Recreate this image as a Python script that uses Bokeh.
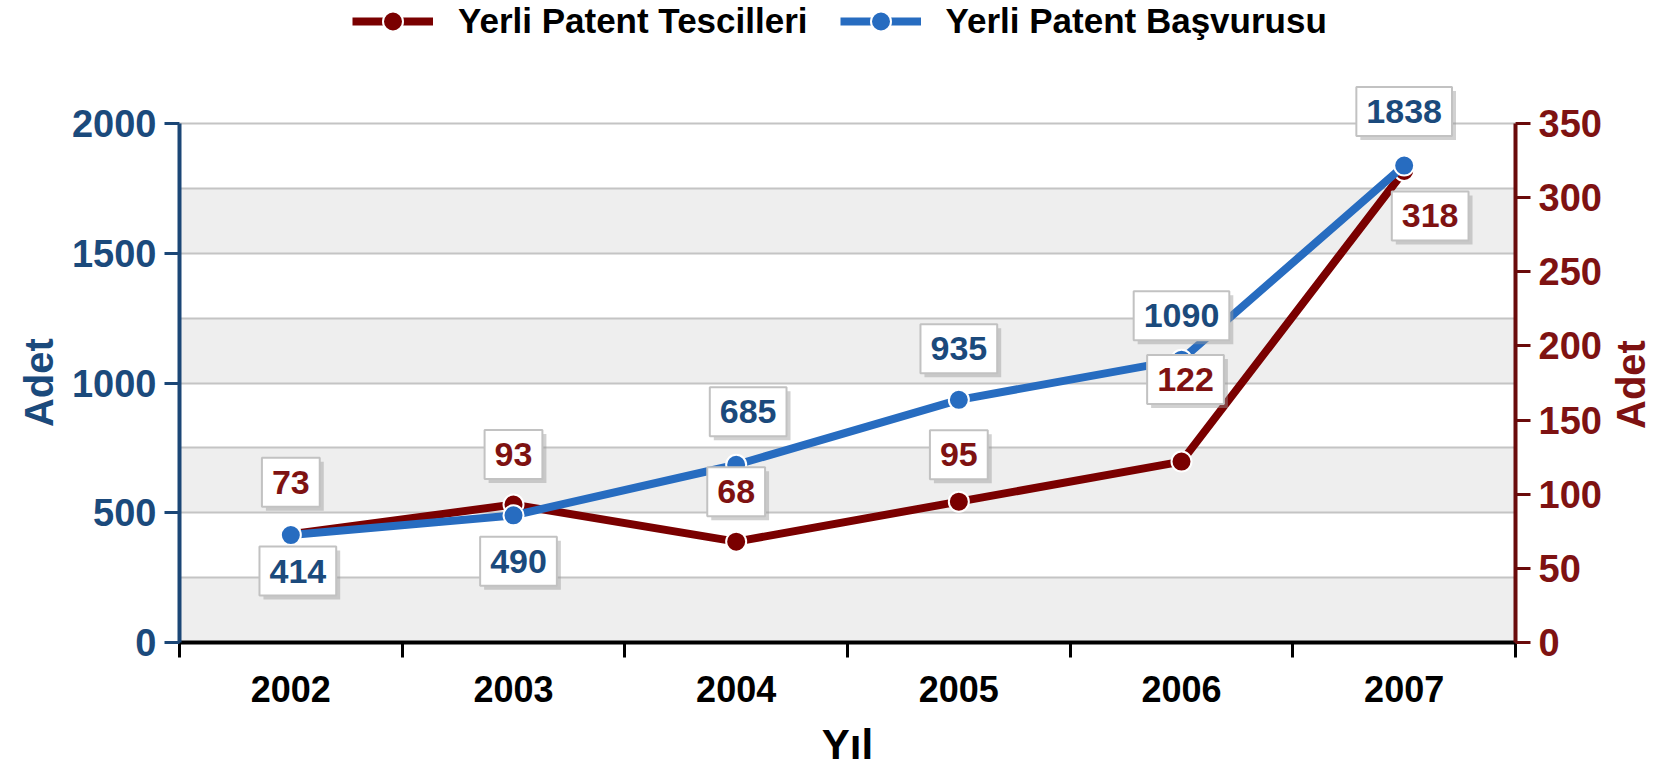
import math
from bokeh.plotting import figure
from bokeh.models import (Range1d, LinearAxis, FixedTicker, Legend, LegendItem,
                          BoxAnnotation, ColumnDataSource)
from bokeh.core.properties import value
from bokeh.embed import file_html
from bokeh.resources import INLINE

# ---- data ----
years = ["2002", "2003", "2004", "2005", "2006", "2007"]
basvuru = [414, 490, 685, 935, 1090, 1838]      # Yerli Patent Başvurusu (left axis)
tescil = [73, 93, 68, 95, 122, 318]             # Yerli Patent Tescilleri (right axis)
left_ticks = [0, 500, 1000, 1500, 2000]
right_ticks = [0, 50, 100, 150, 200, 250, 300, 350]
grid_ticks = [0, 250, 500, 750, 1000, 1250, 1500, 1750, 2000]
LEFT_MAX, RIGHT_MAX = 2000, 350

# ---- label placement (screen px offsets from the point) ----
blue_dx = [7, 5, 12, 0, 0, 0]
blue_dy = [36, 46, -53, -51, -44, -54]
red_dx = [0, 0, 0, 0, 4, 26]
red_dy = [-52, -50, -50, -47, -82, 45]
RIGHT_TITLE_AT = 144   # right-scale value where the right "Adet" title starts

FONT = "Liberation Sans"
BLUE_LINE = "#276cc0"
BLUE_AXIS = "#1b4676"
BLUE_TEXT = "#1b4a7c"
RED_LINE = "#7a0000"
RED_AXIS = "#6a0b0b"
RED_TEXT = "#7e1212"
NBSP = "\u00a0"

# layout: plotting area 519px tall for the data, plus a 123px strip above it
DATA_H, TOP_STRIP = 519, 123
stretch = (DATA_H + TOP_STRIP) / DATA_H

xs = [i + 0.5 for i in range(len(years))]

p = figure(frame_width=1336, frame_height=DATA_H + TOP_STRIP,
           min_border_left=179, min_border_right=150,
           min_border_top=0, min_border_bottom=115,
           x_range=Range1d(0, len(years)), y_range=Range1d(0, LEFT_MAX * stretch),
           output_backend="svg", toolbar_location=None,
           background_fill_color="white", border_fill_color="white")
p.extra_y_ranges = {"right": Range1d(0, RIGHT_MAX * stretch)}
p.outline_line_color = None

# background bands
for b in grid_ticks[0:-1:2]:
    p.add_layout(BoxAnnotation(bottom=b, top=b + 250, fill_color="#eeeeee",
                               fill_alpha=1, line_color=None, level="image"))

p.xgrid.visible = False
p.ygrid.ticker = FixedTicker(ticks=grid_ticks)
p.ygrid.grid_line_color = "#c4c4c4"
p.ygrid.grid_line_width = 2

# x axis
xa = p.xaxis[0]
xa.ticker = FixedTicker(ticks=xs, minor_ticks=list(range(len(years) + 1)))
xa.major_label_overrides = {x: y for x, y in zip(xs, years)}
xa.major_tick_out = 0
xa.major_tick_in = 0
xa.minor_tick_out = 15
xa.minor_tick_in = 0
xa.minor_tick_line_color = "black"
xa.minor_tick_line_width = 3
xa.axis_line_color = "black"
xa.axis_line_width = 4
xa.major_label_text_font = FONT
xa.major_label_text_font_style = "bold"
xa.major_label_text_font_size = "36px"
xa.major_label_text_color = "black"
xa.major_label_standoff = 18
xa.axis_label = "Yıl"
xa.axis_label_text_font = FONT
xa.axis_label_text_font_style = "bold"
xa.axis_label_text_font_size = "42px"
xa.axis_label_text_color = "black"
xa.axis_label_standoff = 16

# left axis
ya = p.yaxis[0]
ya.ticker = FixedTicker(ticks=left_ticks)
ya.bounds = (0, LEFT_MAX)
ya.axis_line_color = BLUE_AXIS
ya.axis_line_width = 4
ya.major_tick_out = 15
ya.major_tick_in = 0
ya.major_tick_line_color = BLUE_AXIS
ya.major_tick_line_width = 3
ya.minor_tick_out = 0
ya.minor_tick_in = 0
ya.major_label_text_font = FONT
ya.major_label_text_font_style = "bold"
ya.major_label_text_font_size = "38px"
ya.major_label_text_color = BLUE_TEXT
ya.major_label_standoff = 8
# trailing no-break spaces centre the visible word on the 0-2000 span
ya.axis_label = "Adet" + NBSP * 11
ya.axis_label_text_font = FONT
ya.axis_label_text_font_style = "bold"
ya.axis_label_text_font_size = "40px"
ya.axis_label_text_color = BLUE_TEXT
ya.axis_label_standoff = 8

# right axis
ra = LinearAxis(y_range_name="right", ticker=FixedTicker(ticks=right_ticks))
ra.bounds = (0, RIGHT_MAX)
ra.axis_line_color = RED_AXIS
ra.axis_line_width = 4
ra.major_tick_out = 15
ra.major_tick_in = 0
ra.major_tick_line_color = RED_AXIS
ra.major_tick_line_width = 3
ra.minor_tick_out = 0
ra.minor_tick_in = 0
ra.major_label_text_font = FONT
ra.major_label_text_font_style = "bold"
ra.major_label_text_font_size = "38px"
ra.major_label_text_color = RED_TEXT
ra.major_label_standoff = 8
p.add_layout(ra, "right")

# right title, read bottom-to-top
rt = LinearAxis(y_range_name="right", ticker=FixedTicker(ticks=[RIGHT_TITLE_AT]))
rt.major_label_overrides = {RIGHT_TITLE_AT: "Adet"}
rt.major_label_orientation = math.pi / 2
rt.axis_line_color = None
rt.major_tick_line_color = None
rt.minor_tick_line_color = None
rt.major_tick_out = 0
rt.major_tick_in = 0
rt.minor_tick_out = 0
rt.minor_tick_in = 0
rt.major_label_standoff = 27
rt.major_label_text_font = FONT
rt.major_label_text_font_style = "bold"
rt.major_label_text_font_size = "40px"
rt.major_label_text_color = RED_TEXT
p.add_layout(rt, "right")

# series
red_src = ColumnDataSource(dict(x=xs, y=tescil, t=[str(v) for v in tescil],
                                dx=red_dx, dy=red_dy,
                                sdx=[d + 4 for d in red_dx], sdy=[d + 4 for d in red_dy]))
blue_src = ColumnDataSource(dict(x=xs, y=basvuru, t=[str(v) for v in basvuru],
                                 dx=blue_dx, dy=blue_dy,
                                 sdx=[d + 4 for d in blue_dx], sdy=[d + 4 for d in blue_dy]))

red_line = p.line("x", "y", source=red_src, y_range_name="right",
                  line_width=8, line_color=RED_LINE)
red_pts = p.scatter("x", "y", source=red_src, y_range_name="right", size=20,
                    fill_color=RED_LINE, line_color="white", line_width=2)
blue_line = p.line("x", "y", source=blue_src, line_width=8, line_color=BLUE_LINE)
blue_pts = p.scatter("x", "y", source=blue_src, size=20,
                     fill_color=BLUE_LINE, line_color="white", line_width=2)


def boxed_labels(src, color, yname):
    kw = {} if yname is None else dict(y_range_name=yname)
    common = dict(source=src, text="t", text_align="center", text_baseline="middle",
                  text_font=value(FONT), text_font_style="bold",
                  text_font_size="34px", padding=(10, 13), **kw)
    p.text("x", "y", x_offset="sdx", y_offset="sdy", text_alpha=0,
           background_fill_color="#9a9a9a", background_fill_alpha=0.45,
           border_line_color=None, **common)
    p.text("x", "y", x_offset="dx", y_offset="dy", text_color=color,
           background_fill_color="white", border_line_color="#c2c2c2",
           border_line_width=2, **common)


boxed_labels(red_src, RED_TEXT, "right")
boxed_labels(blue_src, BLUE_TEXT, None)

legend = Legend(items=[LegendItem(label="Yerli Patent Tescilleri", renderers=[red_line, red_pts]),
                       LegendItem(label="Yerli Patent Başvurusu", renderers=[blue_line, blue_pts])],
                orientation="horizontal", location=(173, 596),
                glyph_width=81, glyph_height=50, label_standoff=25, spacing=32,
                padding=0, margin=0, border_line_color=None, background_fill_alpha=0,
                label_text_font=FONT, label_text_font_style="bold",
                label_text_font_size="35px", label_text_color="black")
p.add_layout(legend)

open("out.html", "w").write(file_html(p, INLINE))
